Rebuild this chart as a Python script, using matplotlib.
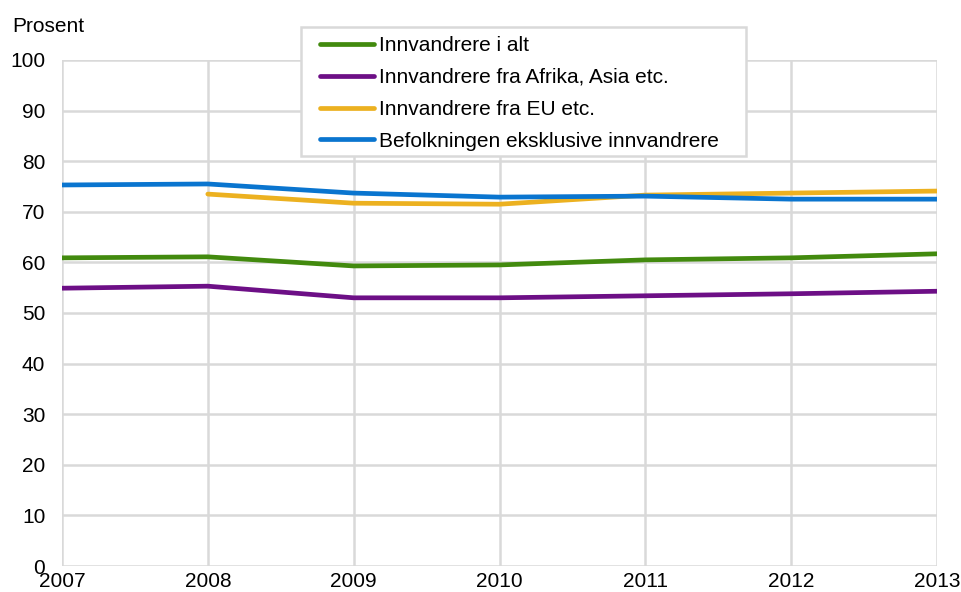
import matplotlib
matplotlib.use('Agg')
from matplotlib import pyplot as plt
from matplotlib.patches import Rectangle
import numpy as np

years = [2007, 2008, 2009, 2010, 2011, 2012, 2013]
# Andel sysselsatte, prosent
innv_alt = [60.9, 61.1, 59.3, 59.5, 60.5, 60.9, 61.7]
innv_afrika = [54.9, 55.3, 53.0, 53.0, 53.4, 53.8, 54.3]
innv_eu = [np.nan, 73.5, 71.7, 71.5, 73.3, 73.7, 74.1]
bef_ekskl = [75.3, 75.5, 73.7, 72.9, 73.1, 72.5, 72.5]

labels = ["Innvandrere i alt", "Innvandrere fra Afrika, Asia etc.",
          "Innvandrere fra EU etc.", "Befolkningen eksklusive innvandrere"]
colors = ["#428a0e", "#6d0f86", "#ecb120", "#0a75cf"]

plt.rcParams['font.family'] = ['Liberation Sans', 'DejaVu Sans']

fig = plt.figure(figsize=(9.62, 5.92), dpi=100)
ax = fig.add_axes([62/962, 1 - 566/592, (937-62)/962, (566-60)/592])

series = [innv_alt, innv_afrika, innv_eu, bef_ekskl]
handles = []
for vals, lab, c in zip(series, labels, colors):
    h, = ax.plot(years, vals, color=c, lw=3.4, label=lab, solid_capstyle='round', zorder=3)
    handles.append(h)

ax.set_xlim(2007, 2013)
ax.set_ylim(0, 100)
ax.set_xticks(years)
ax.set_yticks(range(0, 101, 10))
ax.grid(True, color='#d9d9d9', lw=1.8, zorder=0)
for s in ax.spines.values():
    s.set_visible(False)
ax.tick_params(length=0, labelsize=15, colors='#000000')
ax.tick_params(axis='y', pad=12)
ax.tick_params(axis='x', pad=4)
ax.set_axisbelow(True)

fig.text(12/962, 1 - 27/592, "Prosent", fontsize=15, va='center', ha='left')

# legend box drawn separately so the padding matches
box = Rectangle((301/962, 1 - 156/592), (746-301)/962, (156-27)/592,
                transform=fig.transFigure, facecolor='white',
                edgecolor='#d9d9d9', lw=1.8, zorder=5)
fig.patches.append(box)

leg = fig.legend(handles=handles, loc='upper left',
                 bbox_to_anchor=(320/962, 1 - 36/592), fontsize=15,
                 frameon=False, handlelength=2.6,
                 handletextpad=0.25, borderpad=0, labelspacing=0.62,
                 borderaxespad=0)
leg.set_zorder(6)

fig.savefig("out.png", dpi=100)
